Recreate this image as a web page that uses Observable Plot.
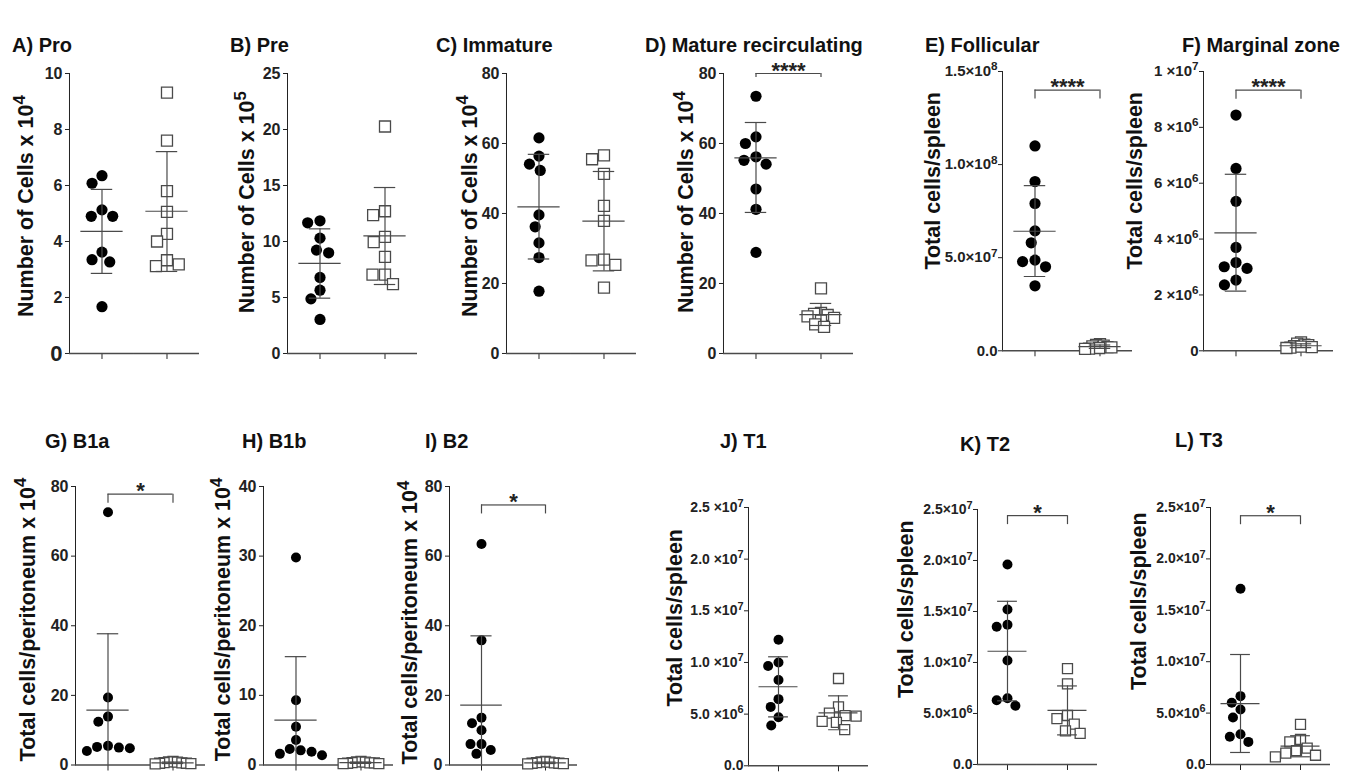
<!DOCTYPE html>
<html><head><meta charset="utf-8">
<script src="https://cdn.jsdelivr.net/npm/d3@7"></script>
<script src="https://cdn.jsdelivr.net/npm/@observablehq/plot@0.6"></script>
<style>
body{margin:0;background:#fff;}
#fig{position:relative;width:1349px;height:773px;overflow:hidden;font-family:"Liberation Sans",Arial,sans-serif;background:#fff;}
.title{position:absolute;font-weight:bold;font-size:20px;line-height:1;color:#111;white-space:nowrap;}
.panel{position:absolute;}
</style></head><body><div id="fig"></div>
<script>
// ---------------- data ----------------
const groups = ["WT", "KO"];
const titles = ["A) Pro", "B) Pre", "C) Immature", "D) Mature recirculating", "E) Follicular", "F) Marginal zone",
                "G) B1a", "H) B1b", "I) B2", "J) T1", "K) T2", "L) T3"];
const yLabels = ["Number of Cells x 10⁴", "Number of Cells x 10⁵", "Number of Cells x 10⁴", "Number of Cells x 10⁴",
                 "Total cells/spleen", "Total cells/spleen",
                 "Total cells/peritoneum x 10⁴", "Total cells/peritoneum x 10⁴", "Total cells/peritoneum x 10⁴",
                 "Total cells/spleen", "Total cells/spleen", "Total cells/spleen"];
const yMax = [10, 25, 80, 80, 1.5e8, 1e7, 80, 40, 80, 2.5e7, 2.5e7, 2.5e7];
const yTicks = [[0, 2, 4, 6, 8, 10], [0, 5, 10, 15, 20, 25], [0, 20, 40, 60, 80], [0, 20, 40, 60, 80],
                [0, 5e7, 1e8, 1.5e8], [0, 2e6, 4e6, 6e6, 8e6, 1e7],
                [0, 20, 40, 60, 80], [0, 10, 20, 30, 40], [0, 20, 40, 60, 80],
                [0, 5e6, 1e7, 1.5e7, 2e7, 2.5e7], [0, 5e6, 1e7, 1.5e7, 2e7, 2.5e7], [0, 5e6, 1e7, 1.5e7, 2e7, 2.5e7]];

// points, centre line and error-bar ends [WT, KO]
const proWT = [6.35, 6.08, 5.13, 4.9, 4.9, 3.62, 3.35, 3.27, 1.67];
const proKO = [9.32, 7.6, 5.8, 5.06, 4.27, 4.0, 3.33, 3.12, 3.18];
const proMean = [4.36, 5.08], proLo = [2.86, 2.93], proHi = [5.86, 7.21];

const preWT = [11.85, 11.67, 10.3, 9.23, 8.99, 6.79, 5.65, 4.88, 3.04];
const preKO = [20.27, 12.7, 12.35, 10.42, 9.94, 8.63, 7.05, 7.05, 6.19];
const preMean = [8.04, 10.5], preLo = [4.94, 6.16], preHi = [11.13, 14.82];

const immWT = [61.6, 56.4, 54.1, 52.3, 39.6, 36.2, 31.6, 27.4, 17.8];
const immKO = [56.6, 55.5, 51.3, 42.2, 37.9, 26.8, 26.6, 25.3, 18.8];
const immMean = [41.9, 37.8], immLo = [27.0, 23.6], immHi = [56.9, 52.0];

const matWT = [73.5, 61.9, 60.0, 56.2, 55.2, 54.1, 47.0, 41.2, 28.9];
const matKO = [18.6, 11.6, 11.3, 11.0, 10.6, 10.2, 9.4, 8.3, 7.6];
const matMean = [55.9, 11.1], matLo = [40.3, 8.0], matHi = [66.0, 14.3];

const folWT = [1.10e8, 9.09e7, 7.91e7, 6.44e7, 5.80e7, 4.87e7, 4.79e7, 4.51e7, 3.49e7];
const folKO = [3.6e6, 3.2e6, 2.8e6, 2.4e6, 2.0e6, 1.8e6, 1.5e6, 1.2e6, 1.0e6];
const folMean = [6.42e7, 2.2e6], folLo = [3.99e7, 1.3e6], folHi = [8.87e7, 3.1e6];

const mzWT = [8.44e6, 6.53e6, 5.35e6, 3.70e6, 3.16e6, 3.01e6, 2.95e6, 2.53e6, 2.36e6];
const mzKO = [3.0e5, 2.6e5, 2.2e5, 2.0e5, 1.7e5, 1.5e5, 1.3e5, 1.1e5, 1.0e5];
const mzMean = [4.22e6, 1.8e5], mzLo = [2.14e6, 1.1e5], mzHi = [6.32e6, 2.5e5];

const b1aWT = [72.6, 19.4, 13.9, 12.4, 5.5, 5.2, 5.0, 4.8, 4.0];
const b1aKO = [1.0, 0.9, 0.8, 0.7, 0.6, 0.5, 0.5, 0.4, 0.3];
const b1aMean = [15.75, 0.63], b1aLo = [-6.2, 0.41], b1aHi = [37.7, 0.85];

const b1bWT = [29.8, 9.3, 5.5, 3.6, 2.3, 2.1, 1.9, 1.6, 1.4];
const b1bKO = [0.5, 0.45, 0.4, 0.35, 0.3, 0.3, 0.25, 0.2, 0.2];
const b1bMean = [6.44, 0.33], b1bLo = [-2.68, 0.23], b1bHi = [15.56, 0.43];

const b2WT = [63.5, 35.8, 13.6, 12.0, 10.0, 6.0, 6.0, 4.3, 3.2];
const b2KO = [1.0, 0.9, 0.8, 0.7, 0.6, 0.5, 0.5, 0.4, 0.3];
const b2Mean = [17.2, 0.63], b2Lo = [-2.7, 0.41], b2Hi = [37.1, 0.85];

const t1WT = [12.2e6, 10.0e6, 9.65e6, 8.3e6, 6.45e6, 5.7e6, 4.7e6, 3.9e6];
const t1KO = [8.45e6, 5.7e6, 5.1e6, 4.85e6, 4.8e6, 4.3e6, 4.2e6, 3.5e6];
const t1Mean = [7.65e6, 5.13e6], t1Lo = [4.74e6, 3.49e6], t1Hi = [10.55e6, 6.77e6];

const t2WT = [19.6e6, 15.2e6, 13.7e6, 13.5e6, 10.2e6, 6.5e6, 6.3e6, 5.75e6];
const t2KO = [9.4e6, 7.9e6, 4.8e6, 4.5e6, 3.95e6, 3.3e6, 3.04e6];
const t2Mean = [11.1e6, 5.3e6], t2Lo = [6.24e6, 2.9e6], t2Hi = [16.0e6, 7.7e6];

const t3WT = [17.1e6, 6.65e6, 6.0e6, 5.35e6, 4.57e6, 2.95e6, 2.7e6, 2.2e6];
const t3KO = [3.9e6, 2.45e6, 2.2e6, 1.6e6, 1.35e6, 1.1e6, 0.9e6, 0.75e6];
const t3Mean = [5.93e6, 1.78e6], t3Lo = [1.17e6, 0.75e6], t3Hi = [10.7e6, 2.8e6];

const sigText = ["", "", "", "****", "****", "****", "*", "", "*", "", "*", "*"];
const sigLevel = [null, null, null, 80, 1.4e8, 9.33e6, 77.8, null, 74.7, null, 2.44e7, 2.42e7];

// ---------------- assembly ----------------
const wtVals = [proWT, preWT, immWT, matWT, folWT, mzWT, b1aWT, b1bWT, b2WT, t1WT, t2WT, t3WT];
const koVals = [proKO, preKO, immKO, matKO, folKO, mzKO, b1aKO, b1bKO, b2KO, t1KO, t2KO, t3KO];
const means = [proMean, preMean, immMean, matMean, folMean, mzMean, b1aMean, b1bMean, b2Mean, t1Mean, t2Mean, t3Mean];
const lows = [proLo, preLo, immLo, matLo, folLo, mzLo, b1aLo, b1bLo, b2Lo, t1Lo, t2Lo, t3Lo];
const highs = [proHi, preHi, immHi, matHi, folHi, mzHi, b1aHi, b1bHi, b2Hi, t1Hi, t2Hi, t3Hi];

// layout (pixels): frame [left, right, top, bottom], label [capLeft, centerY], title [left, baseline]
const frames = [[68.3, 200, 73.3, 353.3], [286.7, 416.7, 73.3, 353.3], [505, 636.7, 73.3, 353.3], [722.7, 853, 73.3, 353.3],
  [1000.7, 1132, 70.7, 350], [1203.3, 1333.3, 70.7, 350],
  [74, 205, 486, 764.5], [261.7, 393.3, 486, 764.5], [448.3, 578.3, 486, 764.5],
  [746.7, 868, 506.7, 765], [977.3, 1098, 509.3, 764.3], [1210, 1330, 507.3, 764.3]];
const labelPos = [[17, 206], [238, 202], [460, 206], [677, 202], [923, 180], [1127, 180],
  [18, 619], [213, 619], [401, 622], [665, 617], [898, 609], [1130, 601]];
const titlePos = [[12, 52], [230, 52], [436, 52], [645, 52], [925, 52], [1182, 52],
  [45, 448], [242, 448], [425, 448], [720, 448], [960, 451], [1175, 447]];
const tickFont = [16, 16, 16, 16, 15, 15, 16, 16, 16, 14, 14, 14];
const koSpread = [12.5, 12.5, 12.5, 7, 4, 4, 4.5, 4.5, 4.5, 11, 11, 11];

const SUP = "⁰¹²³⁴⁵⁶⁷⁸⁹";
const sup = n => String(n).split("").map(c => SUP[+c]).join("");
function sciFmt(dec, sep, zero) {
  return v => {
    if (v === 0) return zero;
    const e = Math.floor(Math.log10(v) + 1e-9);
    return (v / Math.pow(10, e)).toFixed(dec) + sep + "×10" + sup(e);
  };
}
const intFmt = v => String(v);
const formats = [intFmt, intFmt, intFmt, intFmt, sciFmt(1, "", "0.0"), sciFmt(0, " ", "0"),
  intFmt, intFmt, intFmt, sciFmt(1, " ", "0.0"), sciFmt(1, "", "0.0"), sciFmt(1, "", "0.0")];

// turn trailing unicode superscript digits into a raised tspan (same text, better typography)
function raiseSuperscripts(svg) {
  svg.querySelectorAll("text").forEach(t => {
    if (t.querySelector("tspan")) return;
    const s = t.textContent;
    const m = s.match(/^(.*?)([⁰¹²³⁴⁵⁶⁷⁸⁹]+)$/);
    if (!m) return;
    t.textContent = m[1];
    const ts = document.createElementNS("http://www.w3.org/2000/svg", "tspan");
    ts.setAttribute("dy", "-0.5em");
    ts.setAttribute("font-size", "0.78em");
    ts.textContent = m[2].split("").map(c => SUP.indexOf(c)).join("");
    t.appendChild(ts);
  });
}

const LINE = "#4a4a4a";
const ML = 100, MR = 12, MT = 45, MB = 14;
const MEAN_HALF = 0.65, CAP_HALF = 0.33;
const fig = document.getElementById("fig");

for (let i = 0; i < 12; i++) {
  const [x0, x1, y0, y1] = frames[i];
  const W = x1 - x0, H = y1 - y0;
  const topRow = i < 6;
  const dotR = topRow ? 5.6 : 5.0;
  const sqS = topRow ? 5.5 : 5.0;
  const circleSym = {draw(ctx) { ctx.moveTo(dotR, 0); ctx.arc(0, 0, dotR, 0, 2 * Math.PI); ctx.closePath(); }};
  const squareSym = {draw(ctx) { ctx.rect(-sqS, -sqS, 2 * sqS, 2 * sqS); }};
  const wtPts = wtVals[i].map(v => ({g: "WT", v}));
  const koPts = koVals[i].map(v => ({g: "KO", v}));
  const stats = groups.map((g, k) => ({g, mean: means[i][k], lo: lows[i][k], hi: highs[i][k]}));
  const pxPerUnit = H / yMax[i];
  const wtSpread = topRow ? 12.5 : 11;

  const marks = [
    Plot.ruleY([0], {stroke: LINE, strokeWidth: 1.5}),
    Plot.dot(wtPts, Plot.dodgeX({anchor: "middle", padding: 0, r: wtSpread / 2},
      {fx: "g", y: "v", r: wtSpread / 2, symbol: circleSym, fill: "#000", stroke: "none"})),
    Plot.dot(koPts, Plot.dodgeX({anchor: "middle", padding: 0, r: koSpread[i] / 2},
      {fx: "g", y: "v", r: koSpread[i] / 2, symbol: squareSym, fill: "#fff", stroke: LINE, strokeWidth: 1.3})),
    Plot.ruleX(stats, {fx: "g", x: 0, y1: "lo", y2: "hi", stroke: LINE, strokeWidth: 1.2, clip: "frame"}),
    Plot.ruleY(stats, {fx: "g", y: "hi", x1: -CAP_HALF, x2: CAP_HALF, stroke: LINE, strokeWidth: 1.2}),
    Plot.ruleY(stats, {fx: "g", y: "lo", x1: -CAP_HALF, x2: CAP_HALF, stroke: LINE, strokeWidth: 1.2, clip: "frame"}),
    Plot.ruleY(stats, {fx: "g", y: "mean", x1: -MEAN_HALF, x2: MEAN_HALF, stroke: LINE, strokeWidth: 1.2}),
    Plot.text([{g: "WT", t: yLabels[i]}], {fx: "g", text: "t", frameAnchor: "left", rotate: -90, lineAnchor: "top",
      textAnchor: "middle", dx: labelPos[i][0] - x0, dy: labelPos[i][1] - (y0 + H / 2),
      fontSize: 21.5, fontWeight: "bold", fill: "#111"})
  ];
  if (sigText[i]) {
    const lvl = sigLevel[i];
    const drop = (i === 3 ? 4 : 9) / pxPerUnit;
    const br = groups.map(g => ({g, y: lvl}));
    marks.push(
      Plot.ruleY(br, {fx: "g", y: "y", x1: d => d.g === "WT" ? 0 : -1, x2: d => d.g === "WT" ? 1 : 0, stroke: LINE, strokeWidth: 1.2}),
      Plot.ruleX(br, {fx: "g", x: 0, y1: d => d.y - drop, y2: "y", stroke: LINE, strokeWidth: 1.2}),
      Plot.text([{g: "WT", y: lvl, t: sigText[i]}], {fx: "g", x: 1, y: "y", text: "t", dy: -3, fontSize: 22, fill: "#222"})
    );
  }

  const svg = Plot.plot({
    width: W + ML + MR,
    height: H + MT + MB,
    marginLeft: ML, marginRight: MR, marginTop: MT, marginBottom: MB,
    style: {background: "transparent", overflow: "visible", fontSize: tickFont[i] + "px", fontWeight: "bold",
            fontFamily: "'Liberation Sans', Arial, sans-serif", color: "#222", maxWidth: "none"},
    x: {domain: [-1, 1], axis: null},
    y: {domain: [0, yMax[i]], ticks: yTicks[i], tickFormat: formats[i], tickSize: 4, tickPadding: i >= 9 || i === 4 || i === 5 ? 1 : 3,
        line: true, label: null},
    fx: {domain: groups, padding: 0, axis: "bottom", tickSize: 6, tickFormat: () => "", label: null},
    marks
  });
  if (i === 0) {
    svg.querySelectorAll('g[aria-label="y-axis tick label"] text').forEach(t => {
      if (t.textContent === "0") t.setAttribute("font-size", 22);
    });
  }
  raiseSuperscripts(svg);
  const wrap = document.createElement("div");
  wrap.className = "panel";
  wrap.style.left = (x0 - ML) + "px";
  wrap.style.top = (y0 - MT) + "px";
  wrap.appendChild(svg);
  fig.appendChild(wrap);

  const t = document.createElement("div");
  t.className = "title";
  t.textContent = titles[i];
  t.style.left = titlePos[i][0] + "px";
  t.style.top = (titlePos[i][1] - 17) + "px";
  fig.appendChild(t);
}
</script></body></html>
